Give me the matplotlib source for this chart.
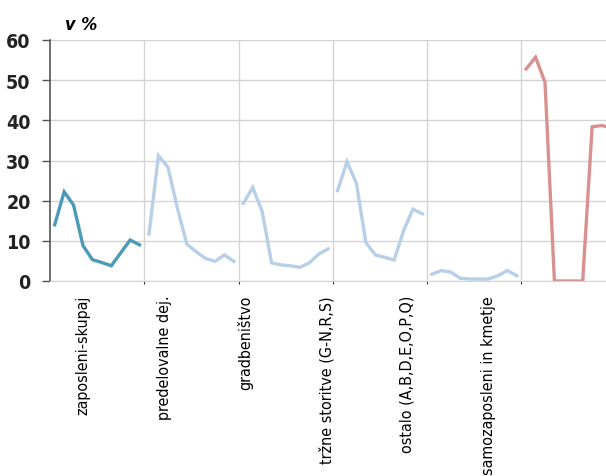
import matplotlib.pyplot as plt
from matplotlib import font_manager
import numpy as np

groups = ['zaposleni-skupaj', 'predelovalne dej.', 'gradbeništvo',
          'tržne storitve (G-N,R,S)', 'ostalo (A,B,D,E,O,P,Q)',
          'samozaposleni in kmetje']

zaposleni = [14.0, 22.2, 18.9, 8.8, 5.3, 4.6, 3.8, 7.0, 10.2, 9.0]
predelovalne = [11.7, 31.2, 28.4, 18.3, 9.2, 7.3, 5.6, 4.9, 6.5, 4.9]
gradbenistvo = [19.3, 23.3, 17.3, 4.5, 4.0, 3.8, 3.4, 4.5, 6.7, 8.0]
trzne = [22.5, 29.7, 24.3, 9.6, 6.5, 5.9, 5.2, 12.5, 17.9, 16.7]
ostalo = [1.7, 2.6, 2.2, 0.7, 0.5, 0.5, 0.5, 1.3, 2.6, 1.3]
samozaposleni = [52.8, 55.7, 49.5, 0.0, 0.0, 0.0, 0.0, 38.4, 38.7, 38.2]

series = [zaposleni, predelovalne, gradbenistvo, trzne, ostalo, samozaposleni]
colors = ['#4b9ab8', '#b8cfe8', '#b8cfe8', '#b8cfe8', '#b8cfe8', '#d99090']

# pick a narrow font if there is one
fonts = font_manager.fontManager.ttflist
names = {f.name for f in fonts}
stretch = 'normal'
if 'Liberation Sans Narrow' in names:
    fam = 'Liberation Sans Narrow'
elif any(f.name == 'DejaVu Sans' and f.stretch == 'condensed' for f in fonts):
    fam = 'DejaVu Sans'
    stretch = 'condensed'
else:
    fam = 'DejaVu Sans'
    stretch = None
plt.rcParams['font.family'] = [fam, 'DejaVu Sans']
if stretch:
    plt.rcParams['font.stretch'] = stretch
narrow = stretch is not None

fig = plt.figure(figsize=(6.06, 4.77), dpi=100)
ax = fig.add_axes([50 / 606, 195 / 477, 565.7 / 606, 241 / 477])

n = len(zaposleni)
for i, (vals, c) in enumerate(zip(series, colors)):
    x = i * n + np.arange(n) + 0.5
    ax.plot(x, vals, color=c, lw=2.4, solid_joinstyle='miter')

ax.set_xlim(0, n * len(groups))
ax.set_ylim(0, 60)
ax.set_yticks(range(0, 61, 10))
ax.set_yticklabels([str(v) for v in range(0, 61, 10)],
                   fontsize=14 if narrow else 13, fontweight='bold', color='#222222')
ax.tick_params(axis='y', length=6, width=1, color='#555555', pad=8)

ax.set_xticks([3.5 + 8.6 * i for i in range(len(groups))])
ax.set_xticklabels(groups, rotation=90, fontsize=11.5 if narrow else 10.5, va='top')
ax.tick_params(axis='x', length=0, pad=10)

ax.set_xticks([i * n for i in range(1, len(groups))], minor=True)
ax.grid(axis='y', color='#d3d3d3', lw=1)
ax.grid(axis='x', which='minor', color='#d3d3d3', lw=1)
ax.set_axisbelow(True)

for s in ['top', 'right']:
    ax.spines[s].set_visible(False)
ax.spines['left'].set_color('#555555')
ax.spines['left'].set_linewidth(1.2)
ax.spines['bottom'].set_color('#d3d3d3')

fig.text(65 / 606, 1 - 25 / 477, 'v %', fontsize=13, fontstyle='italic', fontweight='bold',
         va='center', ha='left')

fig.savefig('out.png', dpi=100)
